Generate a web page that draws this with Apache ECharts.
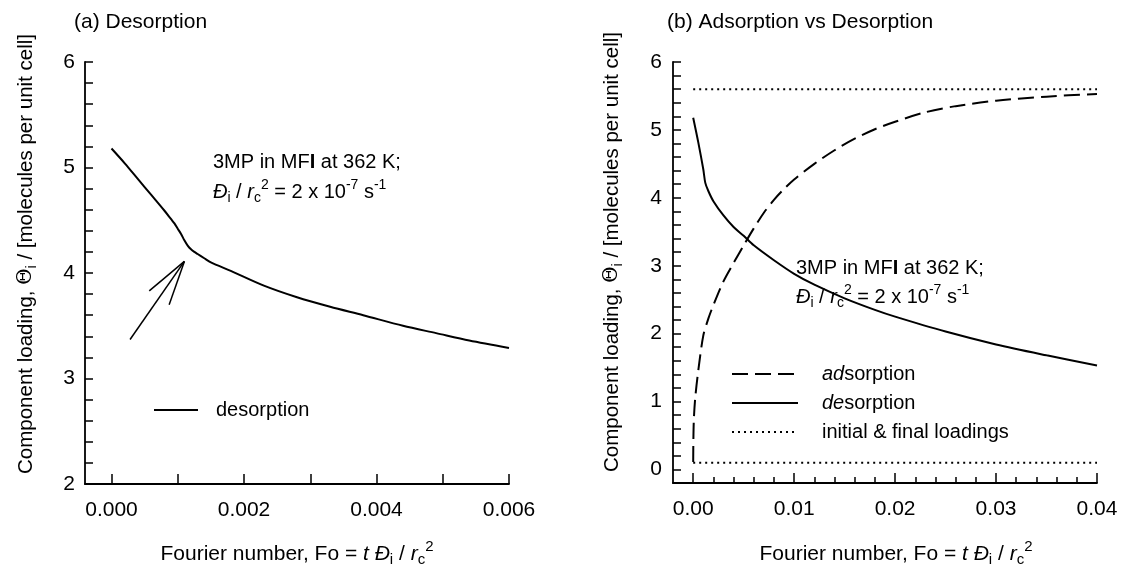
<!DOCTYPE html>
<html>
<head>
<meta charset="utf-8">
<script src="https://cdn.jsdelivr.net/npm/echarts@6/dist/echarts.min.js"></script>
<style>
  html, body { margin: 0; background: #fff; }
  #chart { width: 1124px; height: 574px; }
</style>
</head>
<body>
<div id="chart"></div>
<script>
// (a) desorption, Fourier number vs loading
const foDesA = [0, 0.0002, 0.0004, 0.0006, 0.0008, 0.0009, 0.00095, 0.001, 0.00105, 0.0011, 0.00115, 0.0012, 0.00125, 0.0013, 0.0014, 0.0015, 0.0018, 0.0023, 0.0028, 0.0033, 0.0038, 0.0044, 0.0049, 0.0054, 0.006]
const thetaDesA = [5.18, 5.04, 4.89, 4.74, 4.59, 4.51, 4.47, 4.42, 4.37, 4.31, 4.26, 4.225, 4.20, 4.18, 4.14, 4.10, 4.02, 3.88, 3.77, 3.68, 3.60, 3.50, 3.43, 3.36, 3.29]

// (b) adsorption vs desorption
const foAds = [0, 0.00002, 0.00007, 0.0002, 0.0005, 0.001, 0.0015, 0.002, 0.003, 0.004, 0.005, 0.006, 0.007, 0.008, 0.009, 0.010, 0.012, 0.014, 0.016, 0.018, 0.020, 0.023, 0.026, 0.030, 0.035, 0.040]
const thetaAds = [0.11, 0.45, 0.75, 1.05, 1.45, 1.97, 2.22, 2.42, 2.77, 3.04, 3.30, 3.55, 3.78, 3.97, 4.13, 4.27, 4.50, 4.70, 4.87, 5.01, 5.12, 5.26, 5.35, 5.43, 5.49, 5.53]
const foDesB = [0, 0.0005, 0.001, 0.0012, 0.0015, 0.002, 0.003, 0.004, 0.005, 0.006, 0.008, 0.010, 0.012, 0.015, 0.018, 0.020, 0.025, 0.030, 0.035, 0.040]
const thetaDesB = [5.18, 4.82, 4.42, 4.22, 4.10, 3.95, 3.74, 3.57, 3.44, 3.30, 3.08, 2.88, 2.72, 2.52, 2.35, 2.25, 2.03, 1.84, 1.68, 1.53]
const initialLoading = 0.1
const finalLoading = 5.6
const loadingFo = [0, 0.04]

// arrow in (a): shaft tail -> tip, then two barbs ending at the tip
const arrowShaft = [[0.00028, 3.37], [0.00110, 4.11]]
const arrowBarbs = [[0.00057, 3.83], [0.00087, 3.70]]

// ticks and labels
const tickXA = [0, 0.001, 0.002, 0.003, 0.004, 0.005, 0.006]
const labelXA = [0, 0.002, 0.004, 0.006]
const tickYA = [2, 2.2, 2.4, 2.6, 2.8, 3, 3.2, 3.4, 3.6, 3.8, 4, 4.2, 4.4, 4.6, 4.8, 5, 5.2, 5.4, 5.6, 5.8, 6]
const labelYA = [2, 3, 4, 5, 6]
const majorXB = [0, 0.01, 0.02, 0.03, 0.04]
const minorXB = [0.002, 0.004, 0.006, 0.008, 0.012, 0.014, 0.016, 0.018, 0.022, 0.024, 0.026, 0.028, 0.032, 0.034, 0.036, 0.038]
const tickYB = [0, 0.2, 0.4, 0.6, 0.8, 1, 1.2, 1.4, 1.6, 1.8, 2, 2.2, 2.4, 2.6, 2.8, 3, 3.2, 3.4, 3.6, 3.8, 4, 4.2, 4.4, 4.6, 4.8, 5, 5.2, 5.4, 5.6, 5.8, 6]
const labelYB = [0, 1, 2, 3, 4, 5, 6]

const pairs = (xs, ys) => xs.map((x, i) => [x, ys[i]])
const font = '"Liberation Sans", Arial, sans-serif'
const fs = 20
const fsTick = 21

function richSet (size) {
  const small = Math.round(size * 0.7)
  return {
    it: { fontStyle: 'italic', fontSize: size, fontFamily: font, fill: '#000', color: '#000' },
    sub: { fontSize: small, fontFamily: font, padding: [12, 0, 0, 0], fill: '#000', color: '#000' },
    sup: { fontSize: small, fontFamily: font, padding: [0, 0, 14, 0], fill: '#000', color: '#000' },
    th: { fontSize: size, fontFamily: '"DejaVu Serif", serif', fill: '#000', color: '#000' },
    bd: { fontSize: size, fontFamily: font, fontWeight: 'bold', fill: '#000', color: '#000' }
  }
}
const rich = richSet(fs)
const richName = richSet(21)

const foName = 'Fourier number, Fo = {it|t Đ}{sub|i} / {it|r}{sub|c}{sup|2}'
const yName = 'Component loading, {th|Θ}{sub|i} / [molecules per unit cell]'
const note1 = '3MP in MF{bd|I} at 362 K;'
const note2 = '{it|Đ}{sub|i} / {it|r}{sub|c}{sup|2} = 2 x 10{sup|-7} s{sup|-1}'

function label (text, x, y, opts) {
  opts = opts || {}
  const size = opts.size || fs
  return {
    type: 'text', x: x, y: y, silent: true, rotation: opts.rotation || 0,
    style: {
      text: text, fontSize: size, fontFamily: font, fill: '#000',
      align: opts.align || 'left', verticalAlign: 'middle', rich: opts.rich || rich
    }
  }
}

const axisLineStyle = { color: '#000', width: 1.8 }
const tickStyle = { color: '#000', width: 1.5 }
const tickLabel = { fontSize: fsTick, fontFamily: font, color: '#000' }

const chart = echarts.init(document.getElementById('chart'))
chart.setOption({
  animation: false,
  backgroundColor: '#fff',
  textStyle: { fontFamily: font, color: '#000' },
  title: [
    { text: '(a) Desorption', left: 69, top: 7, textStyle: { fontSize: 21, fontWeight: 'normal', fontFamily: font, color: '#000' } },
    { text: '(b) Adsorption vs Desorption', left: 662, top: 7, textStyle: { fontSize: 21, fontWeight: 'normal', fontFamily: font, color: '#000' } }
  ],
  grid: [
    { left: 85, right: 615, top: 62, bottom: 90 },
    { left: 673, right: 27, top: 62, bottom: 91 }
  ],
  xAxis: [
    {
      gridIndex: 0, type: 'value', min: -0.0004, max: 0.006, position: 'bottom',
      axisLine: { onZero: false, lineStyle: axisLineStyle },
      axisTick: { inside: true, length: 10, customValues: tickXA, lineStyle: tickStyle },
      axisLabel: Object.assign({ customValues: labelXA, margin: 16, formatter: v => v.toFixed(3) }, tickLabel),
      splitLine: { show: false }
    },
    {
      gridIndex: 1, type: 'value', min: -0.002, max: 0.04, position: 'bottom',
      axisLine: { onZero: false, lineStyle: axisLineStyle },
      axisTick: { inside: true, length: 10, customValues: majorXB, lineStyle: tickStyle },
      axisLabel: Object.assign({ customValues: majorXB, margin: 16, formatter: v => v.toFixed(2) }, tickLabel),
      splitLine: { show: false }
    },
    {
      gridIndex: 1, type: 'value', min: -0.002, max: 0.04, position: 'bottom',
      axisLine: { show: false, onZero: false },
      axisTick: { inside: true, length: 6, customValues: minorXB, lineStyle: tickStyle },
      axisLabel: { show: false },
      splitLine: { show: false }
    }
  ],
  yAxis: [
    {
      gridIndex: 0, type: 'value', min: 2, max: 6,
      axisLine: { show: true, onZero: false, lineStyle: axisLineStyle },
      axisTick: { show: true, inside: true, length: 8, customValues: tickYA, lineStyle: tickStyle },
      axisLabel: Object.assign({ customValues: labelYA, margin: 10 }, tickLabel),
      splitLine: { show: false }
    },
    {
      gridIndex: 1, type: 'value', min: -0.2, max: 6,
      axisLine: { show: true, onZero: false, lineStyle: axisLineStyle },
      axisTick: { show: true, inside: true, length: 8, customValues: tickYB, lineStyle: tickStyle },
      axisLabel: Object.assign({ customValues: labelYB, margin: 11 }, tickLabel),
      splitLine: { show: false }
    }
  ],
  legend: [
    {
      left: 148, top: 395, itemWidth: 44, itemHeight: 14, selectedMode: false,
      itemStyle: { opacity: 0 },
      data: ['desorption'],
      textStyle: { fontSize: fs, fontFamily: font, color: '#000', padding: [0, 0, 0, 13] }
    },
    {
      left: 726, top: 359, orient: 'vertical', itemWidth: 66, itemHeight: 14, itemGap: 9, selectedMode: false,
      itemStyle: { opacity: 0 },
      data: ['adsorption', 'desorption ', 'initial & final loadings'],
      formatter: name => name === 'adsorption' ? '{it|ad}sorption' : (name === 'desorption ' ? '{it|de}sorption' : name),
      textStyle: { fontSize: fs, fontFamily: font, color: '#000', padding: [0, 0, 0, 19], rich: rich }
    }
  ],
  graphic: [
    label(yName, 26, 254, { rotation: Math.PI / 2, align: 'center', size: 20.5 }),
    label(yName, 612, 252, { rotation: Math.PI / 2, align: 'center', size: 20.5 }),
    label(foName, 297, 554, { align: 'center', size: 21, rich: richName }),
    label(foName, 896, 554, { align: 'center', size: 21, rich: richName }),
    label(note1, 213, 162),
    label(note2, 213, 192),
    label(note1, 796, 268),
    label(note2, 796, 297)
  ],
  series: [
    {
      name: 'desorption', type: 'line', xAxisIndex: 0, yAxisIndex: 0,
      data: pairs(foDesA, thetaDesA), symbol: 'none', smooth: 0.3,
      lineStyle: { color: '#000', width: 2 }, itemStyle: { color: '#000' },
      markLine: {
        silent: true, symbol: ['none', 'none'], label: { show: false },
        lineStyle: { color: '#000', width: 1.5, type: 'solid' },
        data: [
          [{ coord: arrowShaft[0] }, { coord: arrowShaft[1] }],
          [{ coord: arrowBarbs[0] }, { coord: arrowShaft[1] }],
          [{ coord: arrowBarbs[1] }, { coord: arrowShaft[1] }]
        ]
      }
    },
    {
      name: 'adsorption', type: 'line', xAxisIndex: 1, yAxisIndex: 1,
      data: pairs(foAds, thetaAds), symbol: 'none', smooth: 0.3,
      lineStyle: { color: '#000', width: 2, type: [16, 7] }, itemStyle: { color: '#000' }
    },
    {
      name: 'desorption ', type: 'line', xAxisIndex: 1, yAxisIndex: 1,
      data: pairs(foDesB, thetaDesB), symbol: 'none', smooth: 0.3,
      lineStyle: { color: '#000', width: 2 }, itemStyle: { color: '#000' }
    },
    {
      name: 'initial & final loadings', type: 'line', xAxisIndex: 1, yAxisIndex: 1,
      data: pairs(loadingFo, [initialLoading, initialLoading]), symbol: 'none',
      lineStyle: { color: '#000', width: 2, type: [2, 4] }, itemStyle: { color: '#000' }
    },
    {
      name: 'initial & final loadings', type: 'line', xAxisIndex: 1, yAxisIndex: 1,
      data: pairs(loadingFo, [finalLoading, finalLoading]), symbol: 'none',
      lineStyle: { color: '#000', width: 2, type: [2, 4] }, itemStyle: { color: '#000' }
    }
  ]
})
window.addEventListener('resize', () => chart.resize())
</script>
</body>
</html>
